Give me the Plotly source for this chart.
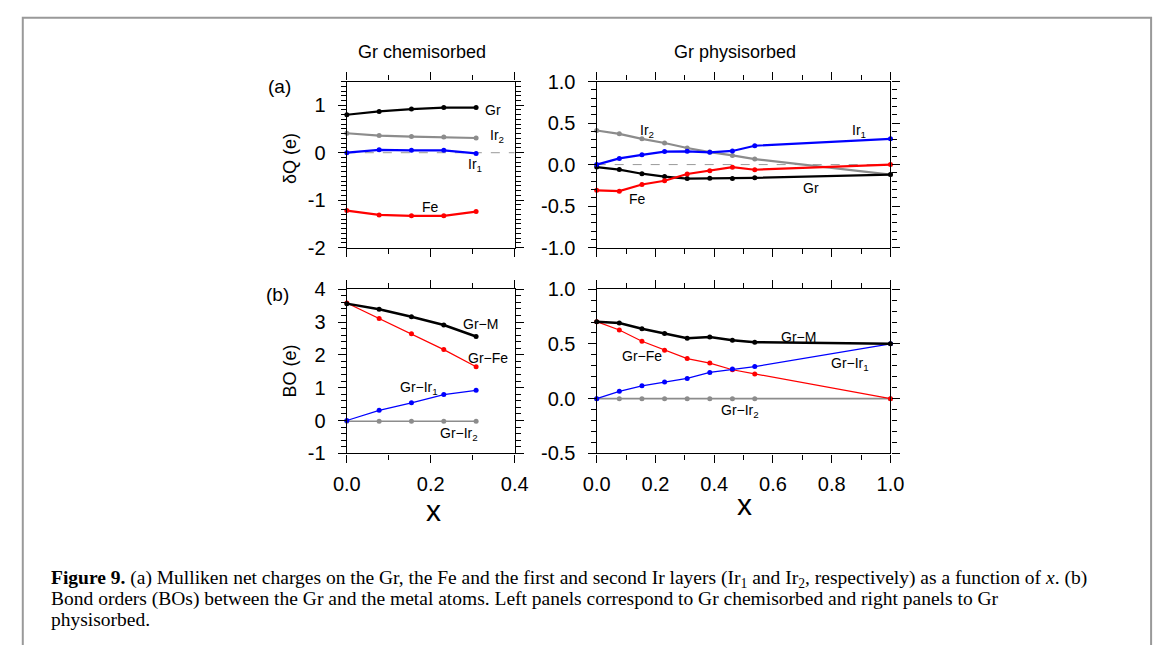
import plotly.graph_objects as go

# ---- data ----
# Gr chemisorbed (left column)
x_chem = [0.0, 0.077, 0.154, 0.231, 0.308]
dq_chem_gr = [0.80, 0.87, 0.92, 0.95, 0.95]
dq_chem_ir2 = [0.41, 0.36, 0.34, 0.33, 0.31]
dq_chem_ir1 = [0.0, 0.06, 0.05, 0.05, -0.015]
dq_chem_fe = [-1.22, -1.31, -1.33, -1.33, -1.24]

bo_chem_grm = [3.56, 3.39, 3.16, 2.91, 2.56]
bo_chem_grfe = [3.58, 3.11, 2.64, 2.16, 1.64]
bo_chem_grir1 = [0.0, 0.31, 0.54, 0.79, 0.92]
bo_chem_grir2 = [-0.02, -0.02, -0.02, -0.02, -0.02]

# Gr physisorbed (right column)
x_phys = [0.0, 0.077, 0.154, 0.231, 0.308, 0.385, 0.462, 0.538, 1.0]
dq_phys_gr = [-0.03, -0.06, -0.11, -0.145, -0.168, -0.164, -0.168, -0.16, -0.12]
dq_phys_ir2 = [0.41, 0.37, 0.31, 0.26, 0.20, 0.15, 0.11, 0.066, -0.12]
dq_phys_ir1 = [0.0, 0.074, 0.117, 0.156, 0.16, 0.148, 0.164, 0.227, 0.31]
dq_phys_fe = [-0.31, -0.32, -0.24, -0.195, -0.113, -0.074, -0.031, -0.062, 0.0]

bo_phys_grm = [0.703, 0.691, 0.639, 0.595, 0.551, 0.563, 0.533, 0.516, 0.501]
bo_phys_grfe = [0.703, 0.627, 0.524, 0.442, 0.366, 0.325, 0.264, 0.226, 0.0]
bo_phys_grir1 = [0.0, 0.067, 0.117, 0.152, 0.185, 0.24, 0.27, 0.293, 0.501]
bo_phys_grir2 = [0.0, 0.0, 0.0, 0.0, 0.0, 0.0, 0.0, 0.0, 0.0]

col_titles = ["Gr chemisorbed", "Gr physisorbed"]
panel_tags = ["(a)", "(b)"]
y_titles = ["δQ (e)", "BO (e)"]

W, H = 1169, 645
BLACK, GRAY, BLUE, RED = "#000000", "#8c8c8c", "#0000ff", "#ff0000"
SANS = "Liberation Sans, Arial, Helvetica, sans-serif"
SERIF = "Liberation Serif, Times New Roman, serif"


def px_x(p):
    return p / W


def px_y(p):
    return 1 - p / H


fig = go.Figure()


def add_line(x, y, color, width, xa, ya, msize=5):
    fig.add_trace(go.Scatter(
        x=x, y=y, mode="lines+markers", xaxis=xa, yaxis=ya,
        line=dict(color=color, width=width),
        marker=dict(color=color, size=msize),
        cliponaxis=False, showlegend=False, hoverinfo="skip"))


# (a) charges
add_line(x_chem, dq_chem_ir2, GRAY, 2.2, "x", "y")
add_line(x_chem, dq_chem_gr, BLACK, 2.2, "x", "y")
add_line(x_chem, dq_chem_ir1, BLUE, 2.2, "x", "y")
add_line(x_chem, dq_chem_fe, RED, 2.2, "x", "y")

add_line(x_phys, dq_phys_ir2, GRAY, 2.2, "x2", "y2")
add_line(x_phys, dq_phys_gr, BLACK, 2.2, "x2", "y2")
add_line(x_phys, dq_phys_ir1, BLUE, 2.2, "x2", "y2")
add_line(x_phys, dq_phys_fe, RED, 2.2, "x2", "y2")

# (b) bond orders
add_line(x_chem, bo_chem_grir2, GRAY, 1.6, "x3", "y3")
add_line(x_chem, bo_chem_grfe, RED, 1.2, "x3", "y3")
add_line(x_chem, bo_chem_grir1, BLUE, 1.2, "x3", "y3")
add_line(x_chem, bo_chem_grm, BLACK, 2.5, "x3", "y3")

add_line(x_phys, bo_phys_grir2, GRAY, 1.6, "x4", "y4")
add_line(x_phys, bo_phys_grfe, RED, 1.2, "x4", "y4")
add_line(x_phys, bo_phys_grir1, BLUE, 1.2, "x4", "y4")
add_line(x_phys, bo_phys_grm, BLACK, 2.5, "x4", "y4")

# panel boxes in pixels: left, right, top, bottom
boxes = {
    "1": (341, 513, 73, 245),
    "2": (597, 898, 73, 245),
    "3": (341, 513, 288, 458),
    "4": (597, 898, 288, 458),
}

axis_common = dict(showline=True, linecolor=BLACK, linewidth=1.4, mirror="ticks",
                   ticks="outside", tickwidth=1.2, tickcolor=BLACK, showgrid=False,
                   zeroline=False, tickfont=dict(family=SANS, size=20, color=BLACK))

yspecs = {
    "1": dict(range=[-2, 1.5], vals=[-2, -1, 0, 1], text=["-2", "-1", "0", "1"], minor=0.1),
    "2": dict(range=[-1, 1], vals=[-1, -0.5, 0, 0.5, 1],
              text=["-1.0", "-0.5", "0.0", "0.5", "1.0"], minor=0.1),
    "3": dict(range=[-1, 4], vals=[-1, 0, 1, 2, 3, 4],
              text=["-1", "0", "1", "2", "3", "4"], minor=0.2),
    "4": dict(range=[-0.5, 1], vals=[-0.5, 0, 0.5, 1],
              text=["-0.5", "0.0", "0.5", "1.0"], minor=0.1),
}
xspecs = {
    "1": dict(range=[0, 0.4], vals=[0, 0.2, 0.4], text=["0.0", "0.2", "0.4"], labels=False),
    "2": dict(range=[0, 1], vals=[0, 0.2, 0.4, 0.6, 0.8, 1.0],
              text=["0.0", "0.2", "0.4", "0.6", "0.8", "1.0"], labels=False),
    "3": dict(range=[0, 0.4], vals=[0, 0.2, 0.4], text=["0.0", "0.2", "0.4"], labels=True),
    "4": dict(range=[0, 1], vals=[0, 0.2, 0.4, 0.6, 0.8, 1.0],
              text=["0.0", "0.2", "0.4", "0.6", "0.8", "1.0"], labels=True),
}

layout_axes = {}
for k, (l, r, t, b) in boxes.items():
    suffix = "" if k == "1" else k
    xs, ys = xspecs[k], yspecs[k]
    layout_axes["xaxis" + suffix] = dict(
        axis_common, domain=[px_x(l), px_x(r)], anchor="y" + suffix,
        range=xs["range"], tickmode="array", tickvals=xs["vals"], ticktext=xs["text"],
        showticklabels=xs["labels"], ticklen=8, ticklabelstandoff=4,
        minor=dict(ticks="outside", dtick=0.1, tick0=0, ticklen=5, tickwidth=1.2,
                   tickcolor=BLACK))
    layout_axes["yaxis" + suffix] = dict(
        axis_common, domain=[px_y(b), px_y(t)], anchor="x" + suffix,
        range=ys["range"], tickmode="array", tickvals=ys["vals"], ticktext=ys["text"],
        ticklen=8, ticklabelstandoff=8,
        minor=dict(ticks="outside", dtick=ys["minor"], tick0=0, ticklen=5, tickwidth=1.2,
                   tickcolor=BLACK))

shapes = [
    # zero reference lines in the charge panels
    dict(type="line", xref="x", yref="y", x0=0, x1=0.4, y0=0, y1=0,
         line=dict(color="#999999", width=1, dash="dash"), layer="below"),
    dict(type="line", xref="x2", yref="y2", x0=0, x1=1, y0=0, y1=0,
         line=dict(color="#999999", width=1, dash="dash"), layer="below"),
    # outer frame
    dict(type="rect", xref="paper", yref="paper", x0=px_x(9), x1=px_x(1165),
         y0=-0.05, y1=px_y(7), line=dict(color="#999999", width=2)),
]

ann = []


def label(text, x, y, xa, ya, size=14):
    ann.append(dict(text=text, x=x, y=y, xref=xa, yref=ya, showarrow=False,
                    font=dict(family=SANS, size=size, color=BLACK),
                    xanchor="center", yanchor="middle"))


# series labels, (a)
label("Gr", 0.349, 0.91, "x", "y")
label("Ir<sub>2</sub>", 0.357, 0.36, "x", "y")
label("Ir<sub>1</sub>", 0.305, -0.25, "x", "y")
label("Fe", 0.2, -1.15, "x", "y")
label("Ir<sub>2</sub>", 0.17, 0.40, "x2", "y2")
label("Ir<sub>1</sub>", 0.893, 0.40, "x2", "y2")
label("Gr", 0.728, -0.28, "x2", "y2")
label("Fe", 0.14, -0.41, "x2", "y2")
# series labels, (b)
label("Gr−M", 0.319, 2.94, "x3", "y3")
label("Gr−Fe", 0.337, 1.91, "x3", "y3")
label("Gr−Ir<sub>1</sub>", 0.172, 1.0, "x3", "y3")
label("Gr−Ir<sub>2</sub>", 0.267, -0.42, "x3", "y3")
label("Gr−M", 0.686, 0.567, "x4", "y4")
label("Gr−Fe", 0.153, 0.39, "x4", "y4")
label("Gr−Ir<sub>1</sub>", 0.863, 0.32, "x4", "y4")
label("Gr−Ir<sub>2</sub>", 0.487, -0.115, "x4", "y4")


def paper_text(text, xp, yp, size, family=SANS, xanchor="center", angle=0):
    ann.append(dict(text=text, x=px_x(xp), y=px_y(yp), xref="paper", yref="paper",
                    showarrow=False, textangle=angle,
                    font=dict(family=family, size=size, color=BLACK),
                    xanchor=xanchor, yanchor="middle"))


paper_text(col_titles[0], 418, 42, 18)
paper_text(col_titles[1], 739, 42, 18)
paper_text(panel_tags[0], 272, 78, 19)
paper_text(panel_tags[1], 270, 294, 19)
paper_text(y_titles[0], 283, 153, 18, angle=-90)
paper_text(y_titles[1], 283, 373, 18, angle=-90)
paper_text("x", 430, 517, 30)
paper_text("x", 748, 511, 30)

caption = [
    "<b>Figure 9.</b> (a) Mulliken net charges on the Gr, the Fe and the first and second Ir "
    "layers (Ir<sub>1</sub> and Ir<sub>2</sub>, respectively) as a function of <i>x</i>. (b)",
    "Bond orders (BOs) between the Gr and the metal atoms. Left panels correspond to Gr "
    "chemisorbed and right panels to Gr",
    "physisorbed.",
]
for i, line in enumerate(caption):
    paper_text(line, 36, 588 + 21 * i, 19.5, family=SERIF, xanchor="left")

fig.update_layout(
    width=W, height=H, autosize=False,
    margin=dict(l=0, r=0, t=0, b=0),
    paper_bgcolor="white", plot_bgcolor="white",
    shapes=shapes, annotations=ann,
    **layout_axes,
)

fig.write_html("out.html", config={"displayModeBar": False})
